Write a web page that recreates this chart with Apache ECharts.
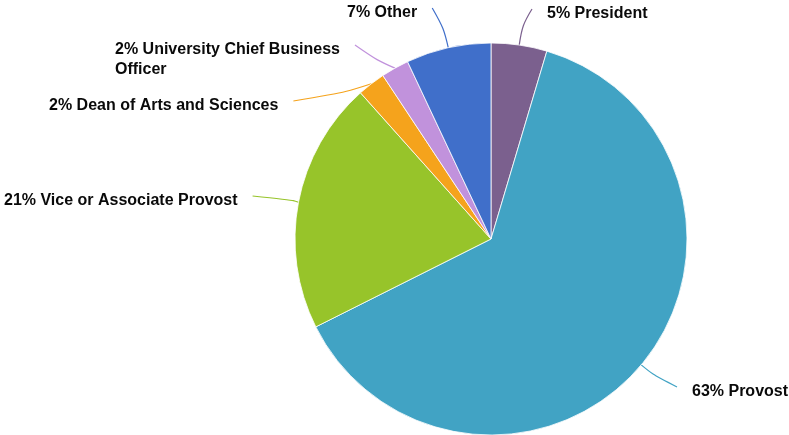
<!DOCTYPE html>
<html>
<head>
<meta charset="utf-8">
<script src="https://cdn.jsdelivr.net/npm/echarts@6/dist/echarts.min.js"></script>
<style>
  html, body { margin: 0; padding: 0; background: #ffffff; }
  #chart { width: 789px; height: 435px; }
</style>
</head>
<body>
<div id="chart"></div>
<script>
// ---- data ----
const categories = ['President', 'Provost', 'Vice or Associate Provost', 'Dean of Arts and Sciences', 'University Chief Business Officer', 'Other'];
const shares = [4.6, 63.0, 20.8, 2.3, 2.3, 7.0];
const labelTexts = ['5% President', '63% Provost', '21% Vice or Associate Provost', '2% Dean of Arts and Sciences', '2% University Chief Business\nOfficer', '7% Other'];

// ---- styling / layout ----
const colors = ['#7b608e', '#41a3c4', '#97c42a', '#f5a31c', '#c192dc', '#406fca'];
// label text box: left edge x, top of first line y
const labelSpots = [[547, 4], [692, 382], [4, 191], [49, 96], [115, 40], [347, 3]];
const lineLens = [20, 15, 10, 8, 14, 20];
const gap = 15;
const center = [491, 239];

const chart = echarts.init(document.getElementById('chart'), null, { renderer: 'canvas' });

const data = categories.map((c, i) => ({
  name: c,
  value: shares[i],
  itemStyle: { color: colors[i] },
  label: { formatter: labelTexts[i] },
  labelLine: { length: lineLens[i], length2: 10, lineStyle: { color: colors[i] } }
}));

chart.setOption({
  animation: false,
  backgroundColor: '#ffffff',
  series: [{
    type: 'pie',
    center: center,
    radius: 196,
    startAngle: 90,
    clockwise: true,
    data: data,
    itemStyle: { borderColor: 'rgba(255,255,255,0.8)', borderWidth: 1 },
    label: {
      show: true,
      color: '#0a0a0a',
      fontFamily: '"Liberation Sans", Arial, sans-serif',
      fontWeight: 'bold',
      fontSize: 16,
      lineHeight: 20
    },
    labelLine: { show: true, smooth: 0.35, lineStyle: { width: 1.2 } },
    labelLayout: function (params) {
      const i = params.dataIndex;
      const spot = labelSpots[i];
      const w = params.labelRect.width;
      const pts = params.labelLinePoints;
      const leftSide = spot[0] < center[0];
      const endX = leftSide ? spot[0] + w + gap : spot[0] - gap;
      const endY = spot[1] + 10 - 5;
      const out = { x: spot[0], y: spot[1], align: 'left', verticalAlign: 'top' };
      if (pts) {
        out.labelLinePoints = [pts[0], pts[1], [endX, endY]];
      }
      return out;
    }
  }]
});
</script>
</body>
</html>
